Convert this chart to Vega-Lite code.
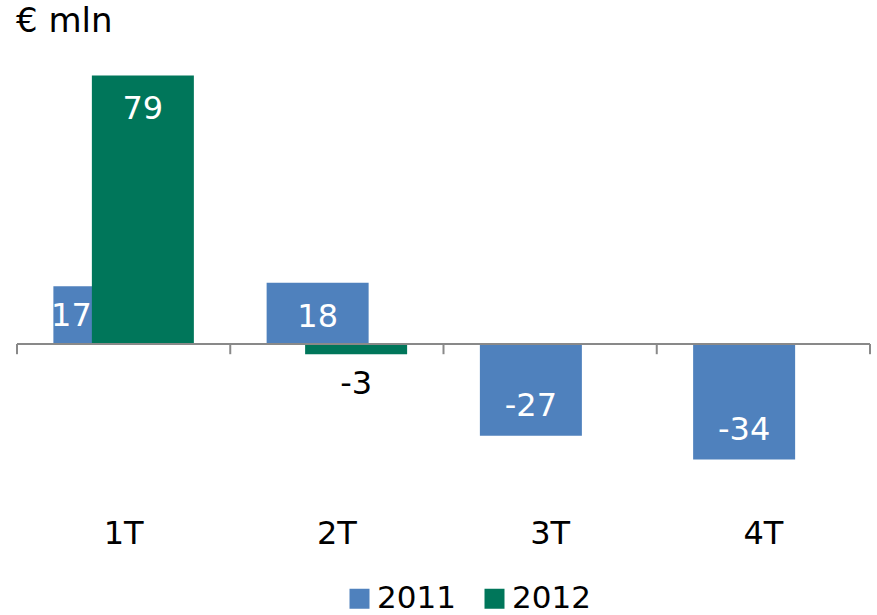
{
  "$schema": "https://vega.github.io/schema/vega-lite/v6.json",
  "width": 853,
  "height": 408,
  "autosize": {"type": "none"},
  "padding": {"left": 17, "top": 72, "right": 7, "bottom": 135},
  "background": "white",
  "config": {"view": {"stroke": null}, "font": "DejaVu Sans"},
  "title": {"text": "€ mln", "anchor": "start", "fontSize": 34, "fontWeight": "normal", "font": "DejaVu Sans", "color": "#000000", "offset": 33},
  "datasets": {
    "bars": [
      {"quarter": "1T", "year": "2011", "value": 17},
      {"quarter": "2T", "year": "2011", "value": 18},
      {"quarter": "3T", "year": "2011", "value": -27},
      {"quarter": "4T", "year": "2011", "value": -34},
      {"quarter": "1T", "year": "2012", "value": 79},
      {"quarter": "2T", "year": "2012", "value": -3}
    ],
    "quarters": [
      {"quarter": "1T"}, {"quarter": "2T"}, {"quarter": "3T"}, {"quarter": "4T"}
    ]
  },
  "data": {"name": "bars"},
  "layer": [
    {
      "mark": {"type": "bar", "width": 102},
      "encoding": {
        "x": {
          "field": "quarter", "type": "nominal", "sort": ["1T", "2T", "3T", "4T"],
          "scale": {"paddingInner": 0.639, "paddingOuter": 0.3195},
          "axis": {"title": null, "domain": false, "ticks": false, "labelAngle": 0, "labelFontSize": 32, "labelFont": "DejaVu Sans", "labelColor": "#000000", "labelPadding": 38}
        },
        "xOffset": {"field": "year", "type": "nominal", "scale": {"domain": ["2011", "2012"], "paddingInner": 0, "paddingOuter": 0}},
        "y": {"field": "value", "type": "quantitative", "scale": {"domain": [-40, 80], "nice": false, "zero": false}, "axis": null},
        "color": {
          "field": "year", "type": "nominal",
          "scale": {"domain": ["2011", "2012"], "range": ["#4F81BD", "#00765A"]},
          "legend": {"title": null, "orient": "none", "direction": "horizontal", "legendX": 327, "legendY": 511, "symbolType": "square", "symbolSize": 400, "symbolStrokeWidth": 0, "labelFontSize": 31, "labelFont": "DejaVu Sans", "labelColor": "#000000", "labelOffset": 2, "columnPadding": 23}
        }
      }
    },
    {
      "mark": {"type": "rule", "color": "#898989", "strokeWidth": 2},
      "encoding": {"y": {"datum": 0, "type": "quantitative"}}
    },
    {
      "data": {"name": "quarters"},
      "mark": {"type": "rule", "color": "#898989", "strokeWidth": 2},
      "encoding": {
        "x": {"field": "quarter", "type": "nominal", "sort": ["1T", "2T", "3T", "4T"], "bandPosition": -0.885},
        "y": {"datum": 0, "type": "quantitative"},
        "y2": {"datum": -3}
      }
    },
    {
      "data": {"name": "quarters"},
      "transform": [{"filter": "datum.quarter === '4T'"}],
      "mark": {"type": "rule", "color": "#898989", "strokeWidth": 2},
      "encoding": {
        "x": {"field": "quarter", "type": "nominal", "sort": ["1T", "2T", "3T", "4T"], "bandPosition": 1.885},
        "y": {"datum": 0, "type": "quantitative"},
        "y2": {"datum": -3}
      }
    },
    {
      "transform": [{"filter": "datum.value > 0 && !(datum.quarter === '1T' && datum.year === '2011')"}],
      "mark": {"type": "text", "color": "white", "fontSize": 32, "font": "DejaVu Sans", "baseline": "middle", "dy": 34},
      "encoding": {
        "x": {"field": "quarter", "type": "nominal", "sort": ["1T", "2T", "3T", "4T"]},
        "xOffset": {"field": "year", "type": "nominal", "scale": {"domain": ["2011", "2012"], "paddingInner": 0, "paddingOuter": 0}},
        "y": {"field": "value", "type": "quantitative"},
        "text": {"field": "value", "type": "nominal"}
      }
    },
    {
      "transform": [{"filter": "datum.quarter === '1T' && datum.year === '2011'"}],
      "mark": {"type": "text", "color": "white", "fontSize": 32, "font": "DejaVu Sans", "baseline": "middle", "dy": 30, "dx": -33},
      "encoding": {
        "x": {"field": "quarter", "type": "nominal", "sort": ["1T", "2T", "3T", "4T"]},
        "xOffset": {"field": "year", "type": "nominal", "scale": {"domain": ["2011", "2012"], "paddingInner": 0, "paddingOuter": 0}},
        "y": {"field": "value", "type": "quantitative"},
        "text": {"field": "value", "type": "nominal"}
      }
    },
    {
      "transform": [{"filter": "datum.value < -10"}],
      "mark": {"type": "text", "color": "white", "fontSize": 32, "font": "DejaVu Sans", "baseline": "middle", "dy": -30},
      "encoding": {
        "x": {"field": "quarter", "type": "nominal", "sort": ["1T", "2T", "3T", "4T"]},
        "xOffset": {"field": "year", "type": "nominal", "scale": {"domain": ["2011", "2012"], "paddingInner": 0, "paddingOuter": 0}},
        "y": {"field": "value", "type": "quantitative"},
        "text": {"field": "value", "type": "nominal"}
      }
    },
    {
      "transform": [{"filter": "datum.value < 0 && datum.value > -10"}],
      "mark": {"type": "text", "color": "black", "fontSize": 32, "font": "DejaVu Sans", "baseline": "middle", "dy": 30},
      "encoding": {
        "x": {"field": "quarter", "type": "nominal", "sort": ["1T", "2T", "3T", "4T"]},
        "xOffset": {"field": "year", "type": "nominal", "scale": {"domain": ["2011", "2012"], "paddingInner": 0, "paddingOuter": 0}},
        "y": {"field": "value", "type": "quantitative"},
        "text": {"field": "value", "type": "nominal"}
      }
    }
  ]
}
